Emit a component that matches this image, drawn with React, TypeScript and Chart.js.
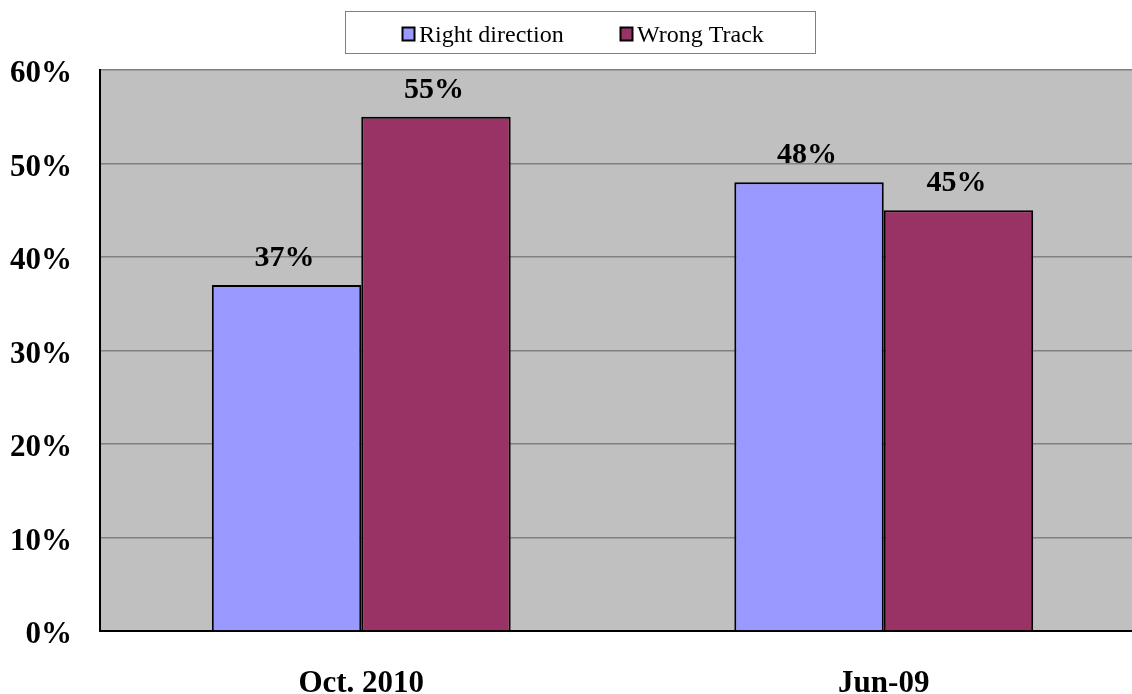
import React, { useEffect, useRef } from "react";
import { Chart, registerables } from "chart.js";

Chart.register(...registerables);

const categories = ["Oct. 2010", "Jun-09"];
const seriesNames = ["Right direction", "Wrong Track"];
const rightDirection = [37, 48];
const wrongTrack = [55, 45];
const seriesColors = ["#9999FF", "#993366"];
const yTicks = [0, 10, 20, 30, 40, 50, 60];

const FONT = "'Liberation Serif', 'Times New Roman', serif";

const bgPlugin = {
  id: "plotBg",
  beforeDraw(chart: any) {
    const { ctx, chartArea } = chart;
    ctx.save();
    ctx.fillStyle = "#C0C0C0";
    ctx.fillRect(chartArea.left, chartArea.top, chartArea.right - chartArea.left, chartArea.bottom - chartArea.top);
    ctx.restore();
  },
};

const legendPlugin = {
  id: "boxLegend",
  afterDraw(chart: any) {
    const { ctx } = chart;
    ctx.save();
    ctx.fillStyle = "#fff";
    ctx.strokeStyle = "#808080";
    ctx.lineWidth = 1;
    ctx.fillRect(345.5, 11.5, 470, 42);
    ctx.strokeRect(345.5, 11.5, 470, 42);
    ctx.font = `24px ${FONT}`;
    ctx.textBaseline = "alphabetic";
    const xs = [402, 620];
    chart.data.datasets.forEach((ds: any, i: number) => {
      const x = xs[i];
      ctx.fillStyle = ds.backgroundColor;
      ctx.fillRect(x + 0.5, 27.5, 12, 13);
      ctx.strokeStyle = "#000";
      ctx.lineWidth = 2;
      ctx.strokeRect(x + 0.5, 27.5, 12, 13);
      ctx.fillStyle = "#000";
      ctx.fillText(ds.label, x + 17, 42);
    });
    ctx.restore();
  },
};

const labelPlugin = {
  id: "valueLabels",
  afterDatasetsDraw(chart: any) {
    const { ctx } = chart;
    ctx.save();
    ctx.font = `bold 30px ${FONT}`;
    ctx.fillStyle = "#000";
    ctx.textAlign = "center";
    ctx.textBaseline = "alphabetic";
    chart.data.datasets.forEach((ds: any, di: number) => {
      const meta = chart.getDatasetMeta(di);
      meta.data.forEach((bar: any, i: number) => {
        ctx.fillText(ds.data[i] + "%", bar.x - 2, bar.y - 19);
      });
    });
    ctx.restore();
  },
};

export default function App() {
  const ref = useRef<HTMLCanvasElement>(null);
  useEffect(() => {
    if (!ref.current) return;
    const chart = new Chart(ref.current, {
      type: "bar",
      data: {
        labels: categories,
        datasets: [
          { label: seriesNames[0], data: rightDirection, backgroundColor: seriesColors[0], borderColor: "#000", borderWidth: 2 },
          { label: seriesNames[1], data: wrongTrack, backgroundColor: seriesColors[1], borderColor: "#000", borderWidth: 2 },
        ],
      },
      options: {
        responsive: false,
        animation: false,
        layout: { padding: { top: 70, right: 0, left: 0, bottom: 0 } },
        plugins: { legend: { display: false }, tooltip: { enabled: false } },
        datasets: { bar: { categoryPercentage: 0.572, barPercentage: 1 } },
        scales: {
          x: {
            grid: { display: false },
            border: { color: "#000", width: 2 },
            ticks: { color: "#000", font: { family: FONT, size: 31, weight: "bold" }, padding: 26 },
            afterFit(scale: any) { scale.height = 63; },
          },
          y: {
            min: 0,
            max: 60,
            afterBuildTicks(scale: any) { scale.ticks = yTicks.map((v) => ({ value: v })); },
            grid: { color: "#808080", lineWidth: 1.5, drawTicks: false },
            border: { color: "#000", width: 2 },
            ticks: {
              color: "#000",
              font: { family: FONT, size: 31, weight: "bold" },
              padding: 28,
              labelOffset: 4,
              callback: (v: any) => v + "%",
            },
            afterFit(scale: any) { scale.width = 100; },
          },
        },
      },
      plugins: [bgPlugin, labelPlugin, legendPlugin],
    });
    return () => chart.destroy();
  }, []);
  return (
    <div style={{ position: "fixed", left: 0, top: 0, width: 1132, height: 694, overflow: "hidden", background: "#fff" }}>
      <canvas ref={ref} width={1145} height={694} />
    </div>
  );
}
